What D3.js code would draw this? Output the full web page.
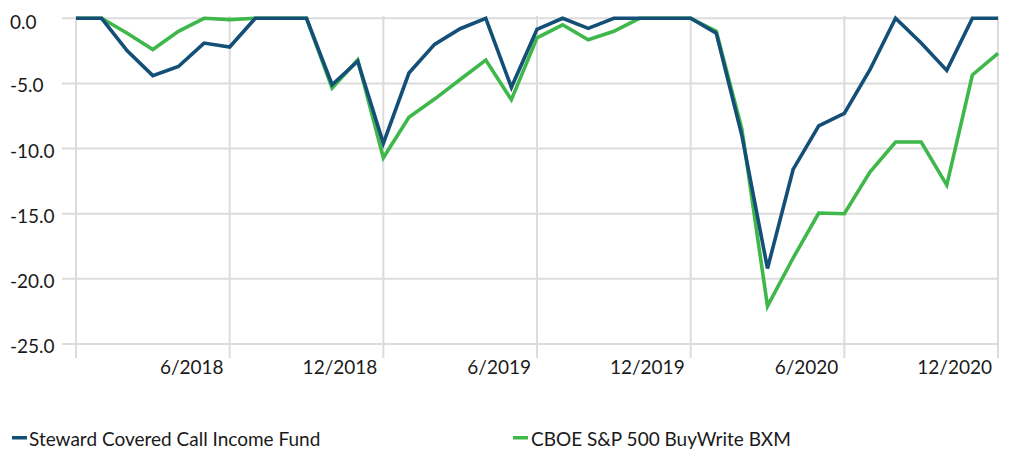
<!DOCTYPE html>
<html><head><meta charset="utf-8">
<script src="https://cdn.jsdelivr.net/npm/d3@7"></script>
<style>
html,body{margin:0;padding:0;background:#fff;}
text{font-family:Lato,"Open Sans",sans-serif;fill:#1a1a1a;}
</style></head>
<body><svg id="c" width="1010" height="449"></svg>
<script>
const months = ["12/2017","1/2018","2/2018","3/2018","4/2018","5/2018","6/2018","7/2018","8/2018","9/2018","10/2018","11/2018",
"12/2018","1/2019","2/2019","3/2019","4/2019","5/2019","6/2019","7/2019","8/2019","9/2019","10/2019","11/2019",
"12/2019","1/2020","2/2020","3/2020","4/2020","5/2020","6/2020","7/2020","8/2020","9/2020","10/2020","11/2020","12/2020"];
const steward = [0,0,-2.5,-4.4,-3.7,-1.9,-2.2,0,0,0,-5.1,-3.3,-9.6,-4.2,-2.0,-0.8,0,-5.3,-0.85,0,-0.77,0,0,0,
0,-1.15,-9.0,-19.2,-11.6,-8.25,-7.3,-3.95,0,-1.9,-4.0,0,0];
const bxm = [0,0,-1.15,-2.4,-1.0,0,-0.1,0,0,0,-5.35,-3.2,-10.7,-7.6,-6.2,-4.7,-3.2,-6.25,-1.5,-0.5,-1.65,-1.0,0,0,
0,-1.0,-8.5,-22.1,-18.4,-14.95,-15.0,-11.8,-9.5,-9.5,-12.8,-4.35,-2.7];
const yTicks = [0,-5,-10,-15,-20,-25];
const xTickLabels = ["6/2018","12/2018","6/2019","12/2019","6/2020","12/2020"];
const seriesNames = ["Steward Covered Call Income Fund","CBOE S&P 500 BuyWrite BXM"];
const colors = ["#144f77","#3fb84b"];

const svg = d3.select("#c");
const x = d3.scaleLinear().domain([0, months.length-1]).range([76, 998]);
const y = d3.scaleLinear().domain([0,-25]).range([18.3, 344]);
const grid = "#dcdcdc";

// horizontal gridlines
svg.append("g").selectAll("line").data(yTicks).join("line")
  .attr("x1",62).attr("x2",998).attr("y1",d=>y(d)).attr("y2",d=>y(d))
  .attr("stroke",grid).attr("stroke-width",2);
// vertical gridlines every 6 months
const vIdx = d3.range(0, months.length, 6);
svg.append("g").selectAll("line").data(vIdx).join("line")
  .attr("x1",d=>x(d)).attr("x2",d=>x(d)).attr("y1",16).attr("y2",358)
  .attr("stroke",grid).attr("stroke-width",2);

// y labels
svg.append("g").selectAll("text").data(yTicks).join("text")
  .attr("x",10).attr("y",d=>y(d)+ (d===0?3.5:1.5)).attr("dominant-baseline","central")
  .attr("font-size",19).text(d=>d3.format(".1f")(d).replace("−","-"));

// x labels
svg.append("g").selectAll("text").data(xTickLabels).join("text")
  .attr("x",d=>x(months.indexOf(d))-6).attr("y",374).attr("text-anchor","end")
  .attr("font-size",19).text(d=>d);

const line = d3.line().x((d,i)=>x(i)).y(d=>y(d));
[bxm, steward].forEach((s,k)=>{
  svg.append("path").datum(s).attr("d",line).attr("fill","none")
    .attr("stroke", k===0?colors[1]:colors[0]).attr("stroke-width",3.6)
    .attr("stroke-linejoin","miter");
});

// legend
const leg = [{x:12,tx:29},{x:513,tx:531}];
seriesNames.forEach((n,i)=>{
  svg.append("rect").attr("x",leg[i].x).attr("y",436).attr("width",15).attr("height",3.5).attr("fill",colors[i]);
  svg.append("text").attr("x",leg[i].tx).attr("y",445.5).attr("font-size",19).text(n);
});
</script></body></html>
